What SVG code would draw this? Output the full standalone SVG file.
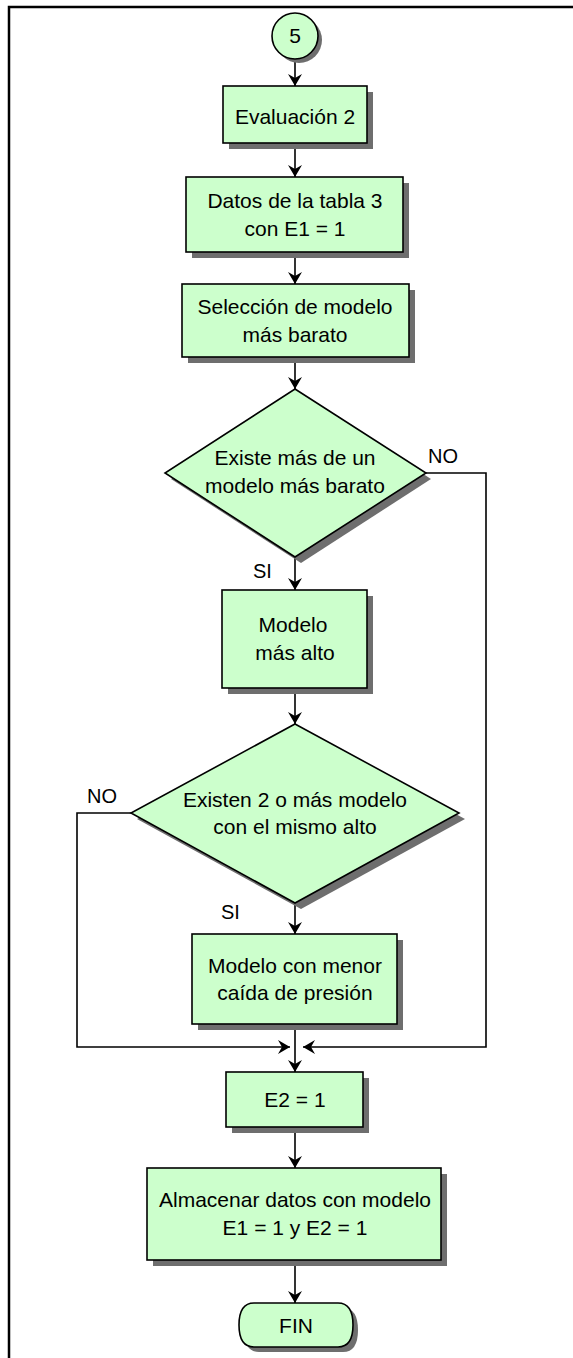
<svg xmlns="http://www.w3.org/2000/svg" width="573" height="1358" viewBox="0 0 573 1358">
<style>
.node{fill:#ccffcc;stroke:#000;stroke-width:1.6}
.sh{fill:#6e6e6e;stroke:none}
.t{font-family:"Liberation Sans",Arial,sans-serif;font-size:21px;fill:#000;text-anchor:middle}
.lbl{font-family:"Liberation Sans",Arial,sans-serif;font-size:20px;fill:#000}
.c{fill:none;stroke:#000;stroke-width:1.6}
</style>
<defs>
<marker id="ah" markerWidth="16" markerHeight="16" refX="0" refY="0" viewBox="-14 -8 16 16" orient="auto" markerUnits="userSpaceOnUse">
<path d="M0,0 L-12,-7 L-8,0 L-12,7 Z" fill="#000"/>
</marker>
</defs>
<rect width="573" height="1358" fill="#fff"/>
<path d="M9,1358 V7 H573" fill="none" stroke="#000" stroke-width="2.5"/>

<g id="connectors">
<path class="c" d="M295,59 V86" marker-end="url(#ah)"/>
<path class="c" d="M295,143 V177" marker-end="url(#ah)"/>
<path class="c" d="M295,252 V284" marker-end="url(#ah)"/>
<path class="c" d="M295,357 V389" marker-end="url(#ah)"/>
<path class="c" d="M295,557 V590" marker-end="url(#ah)"/>
<path class="c" d="M426,473 H486 V1047 H303" marker-end="url(#ah)"/>
<path class="c" d="M295,688 V724" marker-end="url(#ah)"/>
<path class="c" d="M295,903 V934" marker-end="url(#ah)"/>
<path class="c" d="M131,813 H77 V1047 H290" marker-end="url(#ah)"/>
<path class="c" d="M295,1024 V1072" marker-end="url(#ah)"/>
<path class="c" d="M295,1127 V1168" marker-end="url(#ah)"/>
<path class="c" d="M295,1260 V1303" marker-end="url(#ah)"/>
<text class="lbl" x="428" y="463">NO</text>
<text class="lbl" x="253" y="578">SI</text>
<text class="lbl" x="87" y="803">NO</text>
<text class="lbl" x="221" y="919">SI</text>
</g>

<g id="n5">
<circle class="sh" cx="299" cy="40" r="23"/>
<circle class="node" cx="295" cy="36" r="23"/>
<text class="t" x="295" y="43">5</text>
</g>

<g id="eval2">
<rect class="sh" x="229" y="92" width="144" height="57"/>
<rect class="node" x="223" y="86" width="144" height="57"/>
<text class="t" x="295" y="124">Evaluación 2</text>
</g>

<g id="datos">
<rect class="sh" x="192" y="183" width="217" height="75"/>
<rect class="node" x="186" y="177" width="217" height="75"/>
<text class="t" x="295" y="208">Datos de la tabla 3</text>
<text class="t" x="295" y="236">con E1 = 1</text>
</g>

<g id="seleccion">
<rect class="sh" x="188" y="290" width="227" height="73"/>
<rect class="node" x="182" y="284" width="227" height="73"/>
<text class="t" x="295" y="314">Selección de modelo</text>
<text class="t" x="295" y="342">más barato</text>
</g>

<g id="dec1">
<polygon class="sh" points="301,395 431,479 301,563 171,479"/>
<polygon class="node" points="295,389 426,473 295,557 165,473"/>
<text class="t" x="295" y="465">Existe más de un</text>
<text class="t" x="295" y="493">modelo más barato</text>
</g>

<g id="alto">
<rect class="sh" x="228" y="596" width="145" height="98"/>
<rect class="node" x="222" y="590" width="145" height="98"/>
<text class="t" x="293" y="632">Modelo</text>
<text class="t" x="295" y="660">más alto</text>
</g>

<g id="dec2">
<polygon class="sh" points="301,730 465,819 301,909 137,819"/>
<polygon class="node" points="295,724 459,813 295,903 131,813"/>
<text class="t" x="295" y="807">Existen 2 o más modelo</text>
<text class="t" x="295" y="834">con el mismo alto</text>
</g>

<g id="menor">
<rect class="sh" x="198" y="940" width="205" height="90"/>
<rect class="node" x="192" y="934" width="205" height="90"/>
<text class="t" x="295" y="973">Modelo con menor</text>
<text class="t" x="295" y="1000">caída de presión</text>
</g>

<g id="e2">
<rect class="sh" x="232" y="1078" width="137" height="55"/>
<rect class="node" x="226" y="1072" width="137" height="55"/>
<text class="t" x="295" y="1107">E2 = 1</text>
</g>

<g id="almacenar">
<rect class="sh" x="153" y="1174" width="294" height="92"/>
<rect class="node" x="147" y="1168" width="294" height="92"/>
<text class="t" x="295" y="1207">Almacenar datos con modelo</text>
<text class="t" x="295" y="1235">E1 = 1 y E2 = 1</text>
</g>

<g id="fin">
<path class="sh" d="M259,1308 H343 Q358,1308 358,1330 Q358,1352 343,1352 H259 Q244,1352 244,1330 Q244,1308 259,1308 Z"/>
<path class="node" d="M254,1303 H338 Q353,1303 353,1325 Q353,1347 338,1347 H254 Q239,1347 239,1325 Q239,1303 254,1303 Z"/>
<text class="t" x="296" y="1333">FIN</text>
</g>
</svg>
